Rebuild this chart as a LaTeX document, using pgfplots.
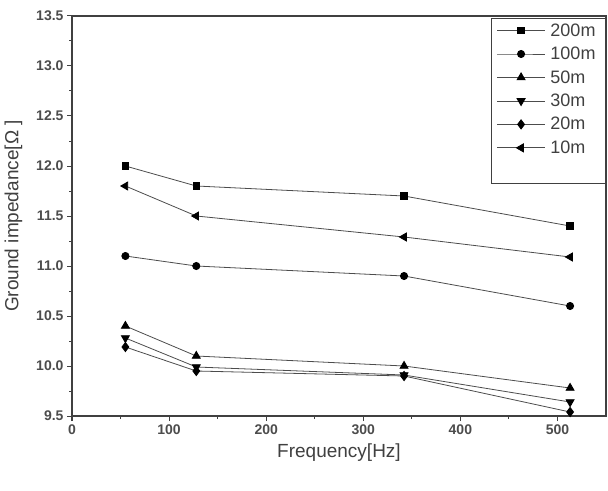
\documentclass[border=0pt]{standalone}
\usepackage{fontspec}
\setmainfont{Liberation Sans}
\usepackage{pgfplots}
\pgfplotsset{compat=1.18}
\begin{document}
\begin{tikzpicture}
\begin{axis}[
  scale only axis,
  width=534pt, height=400pt,
  xmin=0, xmax=550, ymin=9.5, ymax=13.5,
  xtick={0,100,...,500},
  ytick={9.5,10,...,13.5},
  minor x tick num=1, minor y tick num=1,
  xtick pos=left, ytick pos=left,
  tick align=outside,
  major tick length=5pt, minor tick length=3pt,
  every tick/.style={black!75, line width=1pt},
  axis line style={black!75, line width=1.3pt},
  /pgf/number format/assume math mode=true,
  /pgf/number format/.cd, fixed, fixed zerofill, precision=1,
  /pgfplots/.cd,
  xticklabel style={/pgf/number format/precision=0, /pgf/number format/fixed zerofill=false},
  ticklabel style={font=\fontsize{14}{16}\selectfont\bfseries, text=black!70},
  xlabel={Frequency[Hz]},
  ylabel={Ground impedance[Ω ]},
  label style={font=\fontsize{19}{22}\selectfont, text=black!75},
  xlabel style={yshift=-2pt},
  ylabel style={yshift=7pt},
  legend style={at={(1,1)}, anchor=north east, draw=black!75, line width=1pt,
    font=\fontsize{18}{20}\selectfont, text=black!75, row sep=5.4pt,
    inner xsep=5pt, inner ysep=3pt, yshift=-2pt,
    nodes={inner xsep=5pt}},
  legend cell align=left,
  legend image code/.code={\draw[mark repeat=2,mark phase=2,line width=0.8pt] plot coordinates {(0pt,0pt) (24pt,0pt) (48pt,0pt)};},
  every axis plot/.append style={line width=0.8pt, mark size=3.6pt},
]
\coordinate (ll) at (rel axis cs:0,0);
\coordinate (ur) at (rel axis cs:1,1);
\addplot[black!70, mark=square*, mark size=3.3pt, mark options={black, solid}] coordinates {(55,12.0) (128,11.8) (342,11.7) (513,11.4)};
\addlegendentry{200m}
\addplot[black!70, mark=*, mark options={black, solid}] coordinates {(55,11.1) (128,11.0) (342,10.9) (513,10.6)};
\addlegendentry{100m}
\addplot[black!70, mark=triangle*, mark size=4.6pt, mark options={black, solid}] coordinates {(55,10.4) (128,10.1) (342,10.0) (513,9.78)};
\addlegendentry{50m}
\addplot[black!70, mark=triangle*, mark size=4.6pt, mark options={black, solid, rotate=180}] coordinates {(55,10.28) (128,9.99) (342,9.91) (513,9.64)};
\addlegendentry{30m}
\addplot[black!70, mark=diamond*, mark size=4.6pt, mark options={black, solid}] coordinates {(55,10.19) (128,9.95) (342,9.90) (513,9.54)};
\addlegendentry{20m}
\addplot[black!70, mark=triangle*, mark size=4.6pt, mark options={black, solid, rotate=90}] coordinates {(55,11.8) (128,11.5) (342,11.29) (513,11.09)};
\addlegendentry{10m}
\addlegendimage{empty legend}
\addlegendentry{\phantom{0}}
\end{axis}
\pgfresetboundingbox
\path[use as bounding box] ([xshift=-72pt,yshift=-74pt]ll) rectangle ([xshift=2pt,yshift=16pt]ur);
\end{tikzpicture}
\end{document}
